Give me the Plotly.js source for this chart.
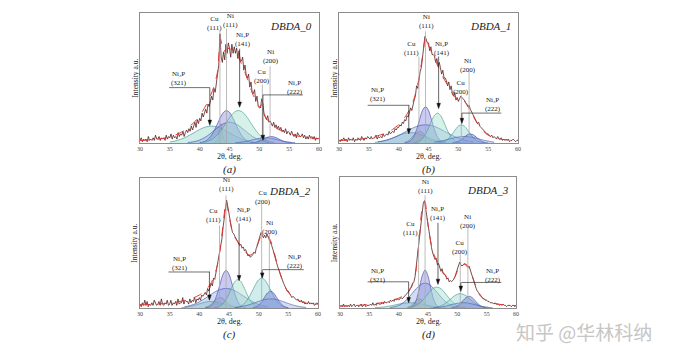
<!DOCTYPE html>
<html><head><meta charset="utf-8">
<script src="https://cdn.plot.ly/plotly-3.0.1.min.js"></script>
<style>html,body{margin:0;padding:0;background:#fff}#chart{width:676px;height:361px}</style>
</head><body><div id="chart"></div>
<script>
// ---------- DATA ----------
const panelNames = ['DBDA_0','DBDA_1','DBDA_2','DBDA_3'];
const panelCaptions = ['(a)','(b)','(c)','(d)'];
const tickValues = [30,35,40,45,50,55,60];
const tickLabels = ['30','35','40','45','50','55','60'];
const xTitle = '2θ, deg.';
const yTitle = 'Intensity a.u.';
const thetaStart = 30, expStep = 0.2, fitStep = 0.5, compStep = 0.5;

// experimental patterns, 2θ = 30..60 step 0.2
const expA = [2,4,1,3,2, 3,1,5,2,3, 2,4,2,6,3, 3,5,2,4,3, 4,2,6,3,5, 4,7,3,6,4, 5,3,8,5,7, 6,9,5,8,10,
 8,11,9,13,10, 13,16,12,18,15, 19,17,23,20,24, 26,23,30,28,33, 36,33,42,39,45, 52,60,84,66,62,
 70,64,76,69,77, 73,66,76,69,74, 69,73,65,71,63, 63,66,56,60,52, 50,53,43,47,39, 38,41,32,36,29,
 28,27,34,30,22, 20,18,21,16,17, 15,13,16,12,14, 11,13,10,12,9, 10,8,11,7,9, 8,6,9,7,5,
 7,4,8,6,5, 5,7,4,6,3, 5,3,6,4,5, 3,5,2,4,3, 4];
const expB = [2,1,3,2,4, 2,3,1,4,2, 3,2,4,1,3, 2,4,3,2,5, 3,2,4,3,5, 4,3,5,3,4, 4,6,3,5,4, 5,4,7,5,6,
 7,6,9,7,8, 9,8,11,10,12, 12,14,13,16,15, 18,17,21,20,24, 27,25,30,33,36, 44,42,50,55,58,
 68,74,82,80,77, 77,71,74,68,68, 67,62,65,59,62, 58,53,56,50,50, 48,44,47,41,44, 38,36,39,33,35,
 32,34,36,35,34, 33,31,30,28,29, 26,24,22,21,19, 17,15,16,13,12, 11,10,9,8,7, 7,6,5,6,4,
 5,4,3,5,3, 3,4,2,3,2, 3,2,3,1,2, 2,3,2,1,2, 2];
const expC = [3,1,4,2,6, 2,5,1,3,2, 4,2,6,3,2, 3,5,2,7,3, 2,4,3,6,2, 3,6,2,4,3, 5,2,7,3,4, 4,8,3,6,5,
 5,3,7,4,6, 5,8,4,7,6, 8,6,10,9,11, 12,10,15,13,16, 19,17,23,22,27, 32,36,42,47,53,
 62,70,80,83,78, 72,66,62,58,57, 55,53,51,50,48, 49,46,47,44,45, 42,40,41,39,40, 41,43,42,46,48,
 52,55,58,56,54, 56,54,57,55,53, 51,48,45,41,38, 35,32,29,27,24, 21,19,17,15,13, 13,11,10,8,9,
 8,7,6,7,5, 5,6,4,5,3, 4,3,5,3,4, 3,4,2,3,4, 3];
const expD = [1,2,1,3,1, 2,1,2,1,3, 1,2,3,1,2, 2,1,2,3,1, 2,3,1,2,2, 2,3,2,4,2, 3,2,4,3,3, 3,4,3,5,4,
 4,5,4,6,5, 6,5,7,6,7, 6,7,8,7,8, 9,10,11,12,13, 15,16,19,20,24, 32,40,49,58,67,
 74,80,82,76,69, 62,56,50,46,42, 40,37,38,33,34, 31,28,30,26,26, 25,22,23,20,21, 20,21,22,24,27,
 30,32,35,33,32, 33,34,33,32,31, 32,29,26,23,20, 18,15,13,12,10, 9,8,7,7,6, 6,5,5,4,4,
 4,3,4,3,3, 3,2,3,2,3, 2,2,1,2,2, 2,1,2,2,1, 2];

// fitted envelopes, 2θ = 30..60 step 0.5
const fitA = [2,2,2.2,2.4,2.6,2.8,3,3.3,3.7,4.2, 4.8,5.5,6.3,7.3,8.5,10,11.5,13.5,15.5,18,
 21,24.5,28.5,33,38.5,45,55,80,70,73, 72.5,71.5,69,66,61,55.5,49,42.5,36.5,31.5,
 27,30,20,17,14.5,12.5,11,9.8,8.8,7.9, 7.1,6.4,5.8,5.3,4.9,4.5,4.2,3.9,3.7,3.5, 3.3];
const fitB = [2,2,2,2.1,2.2,2.4,2.6,2.9,3.2,3.6, 4,4.5,5,5.6,6.3,7.1,8,9.2,10.5,12.2,
 14,16.5,19.5,23,27.5,33,41,52,67,81, 75,70,65,60,55,50,46,42,38,35,
 34,35,32.5,29,25,20.5,16.5,13,10,7.8, 6,4.8,4,3.4,3,2.7,2.5,2.3,2.2,2.1, 2];
const fitC = [2.5,2.5,2.6,2.7,2.8,2.9,3,3.2,3.4,3.6, 3.9,4.2,4.5,4.9,5.3,5.8,6.3,7,7.8,8.8,
 10,11.5,13.5,16,19.5,24.5,32,45,64,82, 71,60,54,51,48,45,42,40.5,42,46,
 51,56,56,55.5,52,45,36,28,21,16, 12,9.5,7.5,6.2,5.2,4.5,4,3.6,3.3,3.1, 3];
const fitD = [1.5,1.5,1.6,1.7,1.8,1.9,2,2.1,2.3,2.5, 2.7,3,3.3,3.6,4,4.4,4.9,5.4,6,6.7,
 7.5,8.6,10,12,15,20,30,52,76,81, 63,50,41,36,31,27.5,24.5,22,21,23,
 28,33,33,33.5,31,25,18.5,13.5,9.5,7, 5.5,4.5,3.8,3.3,2.9,2.6,2.4,2.2,2,1.9, 1.8];

// deconvoluted components (phase of each component, start 2θ, values every 0.5°)
const compPhases = ['Ni3P(321)','Cu(111)','Ni(111)','broad','Ni3P(141)','Cu(200)','Ni(200)','Ni3P(222)'];
const compStartA = [35, 42.5, 40, 38, 40.5, 49.5, 48.5, 46];
const compA = [
 [0.8,1.2,1.7,2.4,3.2,4.1,5.3,6.5,7.8,9.1,10.4,11.5,12.3,12.8,13,12.8,12.3,11.5,10.4,9.1,7.8,6.5,5.3,4.1,3.2,2.4,1.7,1.2,0.8],
 [0.2,3,15,3,0.2],
 [0.3,0.7,1.6,3.3,6.1,10.1,15,19.9,23.6,25,23.6,19.9,15,10.1,6.1,3.3,1.6,0.7,0.3],
 [0.4,0.6,1,1.5,2.3,3.4,4.6,6.2,8,9.9,11.8,13.5,14.8,15.7,16,15.7,14.8,13.5,11.8,9.9,8,6.2,4.6,3.4,2.3,1.5,1,0.6,0.4],
 [0.5,0.9,1.6,2.7,4.2,6.4,9.2,12.5,16,19.5,22.4,24.3,25,24.3,22.4,19.5,16,12.5,9.2,6.4,4.2,2.7,1.6,0.9,0.5],
 [0.1,1.5,6,1.5,0.1],
 [0.1,0.3,0.7,1.5,2.5,3.7,4.6,5,4.6,3.7,2.5,1.5,0.7,0.3,0.1],
 [0.3,0.4,0.7,1,1.4,2,2.6,3.1,3.6,3.9,4,3.9,3.6,3.1,2.6,2,1.4,1,0.7,0.4,0.3]
];
const compStartB = [36, 41, 41, 36.5, 42.5, 46.5, 49, 46];
const compB = [
 [0.5,0.8,1.2,1.7,2.3,3.1,4,4.9,5.9,6.7,7.4,7.8,8,7.8,7.4,6.7,5.9,4.9,4,3.1,2.3,1.7,1.2,0.8,0.5],
 [0.6,1.5,3.3,5.8,8.1,9,8.1,5.8,3.3,1.5,0.6],
 [0.1,0.5,1.8,4.7,10.3,17.9,25.1,28,25.1,17.9,10.3,4.7,1.8,0.5,0.1],
 [0.9,1.2,1.7,2.2,2.9,3.8,4.7,5.8,7,8.2,9.5,10.7,11.8,12.7,13.4,13.8,14,13.8,13.4,12.7,11.8,10.7,9.5,8.2,7,5.8,4.7,3.8,2.9,2.2,1.7,1.2,0.9],
 [0.2,0.5,1.4,3.3,6.7,11.5,16.9,21.3,23,21.3,16.9,11.5,6.7,3.3,1.4,0.5,0.2],
 [0.1,0.3,0.9,2,4.1,7,10.3,13,14,13,10.3,7,4.1,2,0.9,0.3,0.1],
 [0.1,0.4,1.2,2.6,4.5,6.3,7,6.3,4.5,2.6,1.2,0.4,0.1],
 [0.7,1,1.5,1.9,2.5,3.1,3.7,4.2,4.6,4.9,5,4.9,4.6,4.2,3.7,3.1,2.5,1.9,1.5,1,0.7]
];
const compStartC = [37, 41, 41, 37.5, 42.5, 46, 49, 46];
const compC = [
 [0.3,0.5,0.8,1.3,1.8,2.5,3.2,3.9,4.5,4.9,5,4.9,4.5,3.9,3.2,2.5,1.8,1.3,0.8,0.5,0.3],
 [0.5,1.4,2.9,5.1,7.2,8,7.2,5.1,2.9,1.4,0.5],
 [0.1,0.6,1.8,4.9,10.7,18.6,26,29,26,18.6,10.7,4.9,1.8,0.6,0.1],
 [0.9,1.4,2,2.7,3.6,4.8,6.1,7.5,9,10.5,12,13.2,14.2,14.8,15,14.8,14.2,13.2,12,10.5,9,7.5,6.1,4.8,3.6,2.7,2,1.4,0.9],
 [0.2,0.5,1.4,3.2,6.4,11,16.2,20.4,22,20.4,16.2,11,6.4,3.2,1.4,0.5,0.2],
 [0.2,0.6,1.4,3,5.6,9.3,13.8,18.3,21.7,23,21.7,18.3,13.8,9.3,5.6,3,1.4,0.6,0.2],
 [0.2,0.8,2.2,4.8,8.3,11.6,13,11.6,8.3,4.8,2.2,0.8,0.2],
 [0.4,0.7,1,1.5,2,2.7,3.5,4.3,5.1,5.9,6.5,6.9,7,6.9,6.5,5.9,5.1,4.3,3.5,2.7,2,1.5,1,0.7,0.4]
];
const compStartD = [36, 41.5, 42, 38.5, 41.5, 45.5, 49, 46];
const compD = [
 [0.3,0.4,0.6,0.8,1.2,1.5,2,2.5,2.9,3.4,3.7,3.9,4,3.9,3.7,3.4,2.9,2.5,2,1.5,1.2,0.8,0.6,0.4,0.3],
 [0.4,1.5,3.5,5.9,7,5.9,3.5,1.5,0.4],
 [0.4,1.8,6.1,14.5,24.4,29,24.4,14.5,6.1,1.8,0.4],
 [0.4,0.7,1.2,2,3.2,4.9,7,9.5,12.2,14.8,17,18.5,19,18.5,17,14.8,12.2,9.5,7,4.9,3.2,2,1.2,0.7,0.4],
 [0.2,0.5,1,1.9,3.4,5.4,8,10.8,13.5,15.3,16,15.3,13.5,10.8,8,5.4,3.4,1.9,1,0.5,0.2],
 [0.1,0.3,0.7,1.3,2.3,3.7,5.5,7.4,9.3,10.5,11,10.5,9.3,7.4,5.5,3.7,2.3,1.3,0.7,0.3,0.1],
 [0.2,0.6,1.5,3.3,5.8,8,9,8,5.8,3.3,1.5,0.6,0.2],
 [0.3,0.4,0.7,1,1.4,2,2.6,3.1,3.6,3.9,4,3.9,3.6,3.1,2.6,2,1.4,1,0.7,0.4,0.3]
];

// reflections marked on the patterns
const peakText = ['Cu<br>(111)','Ni<br>(111)','Ni₃P<br>(141)','Cu<br>(200)','Ni<br>(200)','Ni₃P<br>(222)','Ni₃P<br>(321)'];
const peakTheta = [43.4, 44.5, 46.7, 50.5, 51.8, 50.6, 41.7];
const watermark = '知乎 @华林科纳';

// ---------- LAYOUT / STYLE ----------
const serif = 'Liberation Serif, Times New Roman, serif';
const phaseStyle = {
  'Ni3P(321)': ['rgba(150,215,205,0.45)', 'rgba(60,145,145,0.9)'],
  'Cu(111)':   ['rgba(200,205,150,0.45)', 'rgba(120,150,120,0.9)'],
  'Ni(111)':   ['rgba(125,125,220,0.40)', 'rgba(60,65,165,0.9)'],
  'broad':     ['rgba(110,140,215,0.30)', 'rgba(55,85,170,0.9)'],
  'Ni3P(141)': ['rgba(165,225,205,0.45)', 'rgba(70,155,140,0.9)'],
  'Cu(200)':   ['rgba(150,215,210,0.45)', 'rgba(65,150,150,0.9)'],
  'Ni(200)':   ['rgba(100,110,210,0.40)', 'rgba(55,65,165,0.9)'],
  'Ni3P(222)': ['rgba(130,150,220,0.35)', 'rgba(70,95,175,0.9)']
};
const domains = [
  {x:[140/676, 319/676], y:[1-143/361, 1-13/361]},
  {x:[339/676, 518/676], y:[1-143/361, 1-13/361]},
  {x:[140/676, 318/676], y:[1-308/361, 1-178/361]},
  {x:[340/676, 516/676], y:[1-308/361, 1-177/361]}
];
// [peak index, text x, text y, line top y, arrow head y, underline x1, underline x2]
const labelLayout = [
 [[0,42.5,92,86,0],[1,45.1,94,88,0],[2,47.3,80,72.5,27.5],[4,51.9,66.5,59,0],[3,50.4,51.5,45,0],[5,55.9,43,37,2,50.6,57.3],[6,36.6,50,42.6,13.6,34.9,41.7]],
 [[0,42.2,73,66.5,0],[1,44.6,93.5,86,0],[2,47.3,73,66.5,26.5],[4,51.6,60,55,0],[3,50.5,42.5,37,0],[5,55.8,30,23,15,50.6,57.2],[6,36.5,37.5,29,7,34.8,41.8]],
 [[0,42.4,71,63.6,0],[1,44.6,95,86.6,0],[2,47.6,72,65,21],[4,51.9,62,57,0],[3,50.8,85,80,0],[5,56.2,36,29.5,23,50.7,57.6],[6,36.8,34,27.7,6,34.8,41.8]],
 [[0,42.1,61,56,0],[1,44.6,93,86,0],[2,46.7,72,65,18],[4,51.8,66,61,0],[3,50.5,46,41,0],[5,56.1,25,19.5,12.7,50.7,57.5],[6,36.4,25,20,4,34.7,41.7]]
];

const exps = [expA, expB, expC, expD];
const fits = [fitA, fitB, fitC, fitD];
const starts = [compStartA, compStartB, compStartC, compStartD];
const comps = [compA, compB, compC, compD];

const traces = [], shapes = [], annotations = [];
const layout = {
  width: 676, height: 361, margin: {l:0, r:0, t:0, b:0},
  paper_bgcolor: '#fff', plot_bgcolor: '#fff', showlegend: false,
  font: {family: serif, color: '#222'}
};

for (let p = 0; p < 4; p++) {
  const sfx = p === 0 ? '' : String(p + 1);
  const xa = 'x' + sfx, ya = 'y' + sfx;
  layout['xaxis' + sfx] = {
    domain: domains[p].x, anchor: ya, range: [30, 60],
    tickmode: 'array', tickvals: tickValues, ticktext: tickLabels,
    tickfont: {family: serif, size: 6, color: '#444'}, ticks: '',
    showline: true, mirror: true, linecolor: '#8c8c8c', linewidth: 1,
    showgrid: false, zeroline: false, fixedrange: true
  };
  layout['yaxis' + sfx] = {
    domain: domains[p].y, anchor: xa, range: [0, 100],
    showticklabels: false, ticks: '',
    showline: true, mirror: true, linecolor: '#8c8c8c', linewidth: 1,
    showgrid: false, zeroline: false, fixedrange: true
  };

  comps[p].forEach((vals, k) => {
    const st = phaseStyle[compPhases[k]];
    traces.push({
      type: 'scatter', mode: 'lines', xaxis: xa, yaxis: ya,
      x: vals.map((_, i) => starts[p][k] + i * compStep), y: vals,
      fill: 'tozeroy', fillcolor: st[0],
      line: {color: st[1], width: 0.7, shape: 'spline', smoothing: 0.8},
      hoverinfo: 'skip'
    });
  });
  traces.push({
    type: 'scatter', mode: 'lines', xaxis: xa, yaxis: ya,
    x: exps[p].map((_, i) => thetaStart + i * expStep), y: exps[p],
    line: {color: '#5a1c1c', width: 0.8}, hoverinfo: 'skip'
  });
  traces.push({
    type: 'scatter', mode: 'lines', xaxis: xa, yaxis: ya,
    x: fits[p].map((_, i) => thetaStart + i * fitStep), y: fits[p],
    line: {color: '#e3352c', width: 1, dash: 'dash', shape: 'spline', smoothing: 0.6},
    hoverinfo: 'skip'
  });

  labelLayout[p].forEach(L => {
    const [idx, tx, ty, top, head, u1, u2] = L;
    const th = peakTheta[idx];
    annotations.push({xref: xa, yref: ya, x: tx, y: ty, text: peakText[idx], showarrow: false,
      font: {family: serif, size: 7, color: '#222'}, xanchor: 'center', yanchor: 'middle', align: 'center'});
    if (idx === 0 || idx === 1 || idx === 3 || idx === 4) {
      shapes.push({type: 'line', xref: xa, yref: ya, x0: th, x1: th, y0: top, y1: head,
        line: {color: '#a9a9a9', width: 0.8}});
    } else {
      if (u1 !== undefined) {
        shapes.push({type: 'line', xref: xa, yref: ya, x0: u1, x1: u2, y0: top, y1: top,
          line: {color: '#333', width: 0.7}});
      }
      shapes.push({type: 'line', xref: xa, yref: ya, x0: th, x1: th, y0: top, y1: head + 3,
        line: {color: '#222', width: 0.7}});
      shapes.push({type: 'path', xref: xa, yref: ya,
        path: `M ${th - 0.3},${head + 4} L ${th + 0.3},${head + 4} L ${th},${head} Z`,
        fillcolor: '#111', line: {color: '#111', width: 0.5}});
    }
  });

  const xd = xa + ' domain', yd = ya + ' domain';
  annotations.push({xref: xd, yref: yd, x: 0.97, y: 0.965, xanchor: 'right', yanchor: 'top',
    text: '<i>' + panelNames[p] + '</i>', showarrow: false, font: {family: serif, size: 11, color: '#222'}});
  annotations.push({xref: xd, yref: yd, x: 0.5, y: -0.1, xanchor: 'center', yanchor: 'middle',
    text: xTitle, showarrow: false, font: {family: serif, size: 8, color: '#222'}});
  annotations.push({xref: xd, yref: yd, x: 0.5, y: -0.205, xanchor: 'center', yanchor: 'middle',
    text: '<i>' + panelCaptions[p] + '</i>', showarrow: false, font: {family: serif, size: 11, color: '#222'}});
  annotations.push({xref: xd, yref: yd, x: -0.03, y: 0.5, xanchor: 'center', yanchor: 'middle', textangle: -90,
    text: yTitle, showarrow: false, font: {family: serif, size: 7.5, color: '#222'}});
}

annotations.push({xref: 'paper', yref: 'paper', x: 0.864, y: 1 - 331/361, xanchor: 'center', yanchor: 'middle',
  text: watermark, showarrow: false, font: {family: 'Noto Sans CJK SC', size: 19, color: '#c6c6c6'}});

layout.shapes = shapes;
layout.annotations = annotations;
Plotly.newPlot('chart', traces, layout, {displayModeBar: false, staticPlot: true});
</script></body></html>
